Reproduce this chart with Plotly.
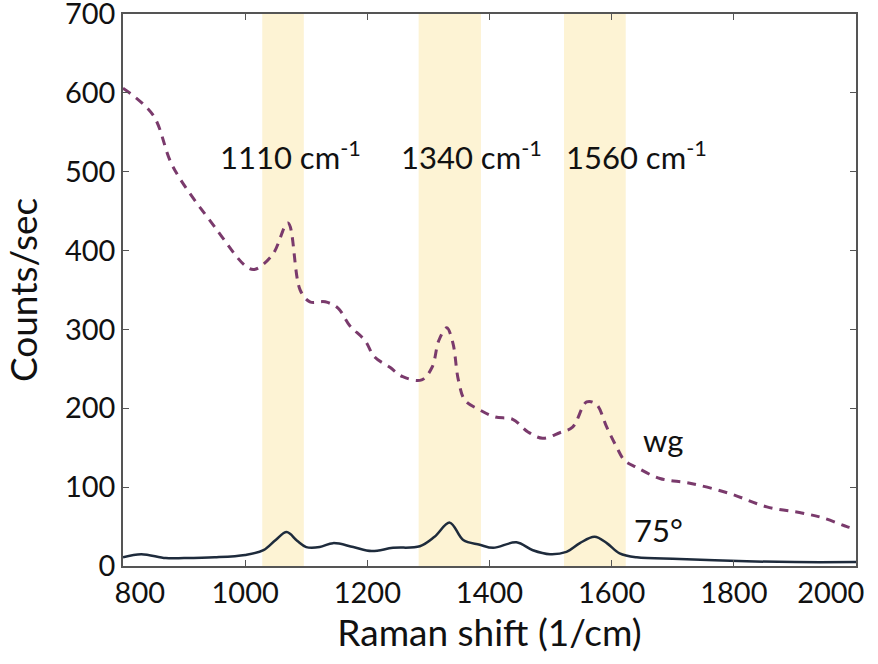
import plotly.graph_objects as go

# wg (dashed) spectrum
wg_x = [800, 849, 882, 954, 1000, 1015, 1045, 1070, 1090, 1106, 1131, 1152, 1171, 1196, 1212, 1237,
        1258, 1289, 1306, 1317, 1330, 1340, 1349, 1360, 1384, 1409, 1438, 1463, 1487, 1515, 1536,
        1559, 1575, 1592, 1608, 1621, 1641, 1679, 1728, 1793, 1854, 1913, 1946, 1985, 2000]
wg_y = [606, 572, 506, 426, 381, 376, 395, 435, 350, 335, 335, 327, 305, 286, 265, 252,
        240, 236, 252, 286, 302, 283, 236, 210, 198, 189, 186, 170, 162, 169, 176,
        208, 205, 176, 151, 134, 125, 111, 105, 92, 75, 67, 61, 50, 47]

# 75° (solid) spectrum
d75_x = [800, 830, 870, 900, 950, 1000, 1030, 1050, 1068, 1085, 1100, 1122, 1144, 1177, 1207, 1242,
         1286, 1310, 1335, 1357, 1384, 1406, 1444, 1471, 1499, 1526, 1548, 1572, 1592, 1613, 1641,
         1711, 1821, 1900, 2000]
d75_y = [11, 15, 10, 10, 11, 14, 20, 33, 43, 32, 24, 24, 29, 24, 19, 23,
         25, 37, 55, 33, 27, 23, 30, 20, 15, 18, 29, 37, 29, 16, 11,
         9, 6, 5, 5]

# highlighted bands (cm-1)
band_lo = [1028, 1284, 1522]
band_hi = [1096, 1386, 1623]
band_labels = ["1110 cm<sup>-1</sup>", "1340 cm<sup>-1</sup>", "1560 cm<sup>-1</sup>"]
band_label_x = [1075, 1370, 1641]

x_tickvals = [800, 1000, 1200, 1400, 1600, 1800, 2000]
x_ticktext = ["\u2007\u2007800", "1000", "1200", "1400", "1600", "1800", "2000\u2007\u2007\u2007"]
y_tickvals = [0, 100, 200, 300, 400, 500, 600, 700]

FONT = "Lato, 'Open Sans', sans-serif"
TXT = "#111"

fig = go.Figure()
fig.add_trace(go.Scatter(x=wg_x, y=wg_y, mode="lines", line_shape="spline",
                         line=dict(color="#7a3a6c", width=3, dash="9px,7px"), name="wg"))
fig.add_trace(go.Scatter(x=d75_x, y=d75_y, mode="lines", line_shape="spline",
                         line=dict(color="#1e2b3c", width=2.5), name="75°"))

for lo, hi in zip(band_lo, band_hi):
    fig.add_shape(type="rect", xref="x", yref="paper", x0=lo, x1=hi, y0=0, y1=1,
                  fillcolor="#fdf3d4", line_width=0, layer="below")

for lbl, xx in zip(band_labels, band_label_x):
    fig.add_annotation(x=xx, y=521, text=lbl, showarrow=False,
                       font=dict(size=31, color=TXT, family=FONT))

fig.add_annotation(x=1684, y=160, text="wg", showarrow=False,
                   font=dict(size=31, color=TXT, family=FONT))
fig.add_annotation(x=1676, y=46, text="75°", showarrow=False,
                   font=dict(size=31, color=TXT, family=FONT))

axis_common = dict(showline=True, linecolor="#555", linewidth=1.5, mirror="ticks",
                   ticks="inside", ticklen=6, tickcolor="#555", showgrid=False, zeroline=False,
                   automargin=False, ticklabeloverflow="allow",
                   tickfont=dict(size=29, color=TXT, family=FONT))

fig.update_xaxes(range=[800, 2000], tickvals=x_tickvals, ticktext=x_ticktext,
                 title=dict(text="Raman shift (1/cm)", font=dict(size=37, color=TXT, family=FONT),
                            standoff=4), **axis_common)
fig.update_yaxes(range=[0, 700], tickvals=y_tickvals,
                 title=dict(text="Counts/sec", font=dict(size=37, color=TXT, family=FONT),
                            standoff=16), **axis_common)

fig.update_layout(width=878, height=664, margin=dict(l=123, r=22, t=14, b=98),
                  plot_bgcolor="white", paper_bgcolor="white", showlegend=False)

fig.write_html("out.html", config={"displayModeBar": False},
               post_script="document.body.style.margin='0px';document.body.style.overflow='hidden';")
